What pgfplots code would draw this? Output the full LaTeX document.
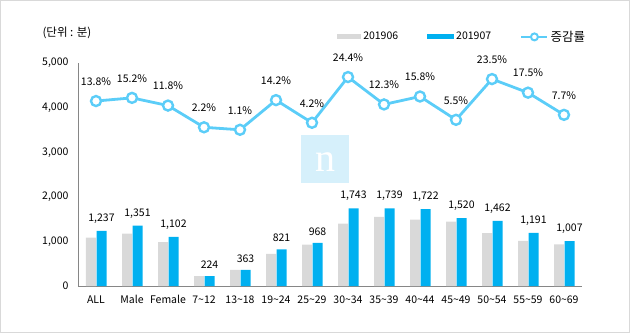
\documentclass[border=0pt]{standalone}
\usepackage{pgfplots}
\pgfplotsset{compat=1.18}
\usepackage{fontspec}
\setmainfont{Noto Sans CJK KR}
\definecolor{barGray}{HTML}{D9D9D9}
\definecolor{barBlue}{HTML}{00B0F0}
\definecolor{lineBlue}{HTML}{5BCDF8}
\definecolor{axisGray}{HTML}{868686}
\definecolor{frameGray}{HTML}{D9D9D9}
\definecolor{wmBlue}{HTML}{D6F0FB}
\begin{document}
\begin{tikzpicture}[x=1pt,y=1pt]
\draw[frameGray,line width=1pt] (0.5,0.5) rectangle (629.5,332.5);
\path[use as bounding box] (0,0) rectangle (630,333);
\node[anchor=west,font=\fontsize{11.5}{13}\selectfont] at (39,300) {(단위 : 분)};
\fill[wmBlue] (301,150) rectangle (349,198);
\node[white,font=\fontsize{40}{40}\selectfont\fontspec{Liberation Serif}] at (325,171) {n};
\begin{axis}[
  at={(78pt,47pt)}, anchor=south west,
  scale only axis, width=504pt, height=223pt,
  xmin=-0.5, xmax=13.5, ymin=0, ymax=5000,
  axis x line*=bottom, axis y line*=left,
  axis line style={axisGray, line width=0.8pt},
  every outer x axis line/.append style={-},
  every outer y axis line/.append style={-},
  xtick=data,
  xticklabels={ALL,Male,Female,7\textasciitilde12,13\textasciitilde18,19\textasciitilde24,25\textasciitilde29,30\textasciitilde34,35\textasciitilde39,40\textasciitilde44,45\textasciitilde49,50\textasciitilde54,55\textasciitilde59,60\textasciitilde69},
  ytick={0,1000,2000,3000,4000,5000},
  major tick length=0pt,
  /pgf/number format/assume math mode=true,
  /pgf/number format/1000 sep={,},
  scaled y ticks=false,
  tick label style={font=\fontsize{10.5}{12}\selectfont},
  xticklabel style={yshift=-6pt},
  yticklabel style={xshift=-6pt},
  ybar, bar width=10pt,
  legend style={at={(0.514,1.117)}, anchor=west, draw=none, fill=none,
    font=\fontsize{10.5}{12}\selectfont, legend columns=3,
    /tikz/every even column/.append style={column sep=27pt},
    inner sep=0pt},
  legend cell align=left,
]
\addplot[fill=barGray, draw=none, bar shift=-5pt,
  legend image code/.code={\fill[barGray] (0pt,-2.5pt) rectangle (24pt,2.5pt);}]
  coordinates {(0,1087) (1,1173) (2,986) (3,219) (4,359) (5,719) (6,929) (7,1401) (8,1549) (9,1487) (10,1441) (11,1184) (12,1014) (13,935)};
\addlegendentry{201906}
\addplot[fill=barBlue, draw=none, bar shift=5.5pt,
  nodes near coords, nodes near coords align={vertical},
  every node near coord/.append style={black, font=\fontsize{10.5}{12}\selectfont, yshift=4pt},
  legend image code/.code={\fill[barBlue] (0pt,-2.5pt) rectangle (27pt,2.5pt);}]
  coordinates {(0,1237) (1,1351) (2,1102) (3,224) (4,363) (5,821) (6,968) (7,1743) (8,1739) (9,1722) (10,1520) (11,1462) (12,1191) (13,1007)};
\addlegendentry{201907}
\addlegendimage{lineBlue, line width=2.5pt,
  legend image code/.code={\draw[lineBlue,line width=2.5pt] (0pt,0pt) -- (26pt,0pt); \draw[lineBlue,line width=2pt,fill=white] (13pt,0pt) circle (3.5pt);}}
\addlegendentry{\fontsize{12.5}{14}\selectfont 증감률}
\end{axis}
\begin{axis}[
  at={(78pt,47pt)}, anchor=south west,
  scale only axis, width=504pt, height=223pt,
  xmin=-0.5, xmax=13.5, ymin=-67.9, ymax=30.6,
  hide axis, clip=false,
  /pgf/number format/assume math mode=true,
]
\addplot[lineBlue, line width=2.8pt, mark=*, mark size=5pt,
  mark options={fill=white, draw=lineBlue, line width=2.4pt},
  nodes near coords={\pgfmathprintnumber[fixed,precision=1,fixed zerofill,assume math mode=true]{\pgfplotspointmeta}\%},
  every node near coord/.append style={black, font=\fontsize{10.5}{12}\selectfont, yshift=11pt}]
  coordinates {(0,13.8) (1,15.2) (2,11.8) (3,2.2) (4,1.1) (5,14.2) (6,4.2) (7,24.4) (8,12.3) (9,15.8) (10,5.5) (11,23.5) (12,17.5) (13,7.7)};
\end{axis}
\end{tikzpicture}
\end{document}
